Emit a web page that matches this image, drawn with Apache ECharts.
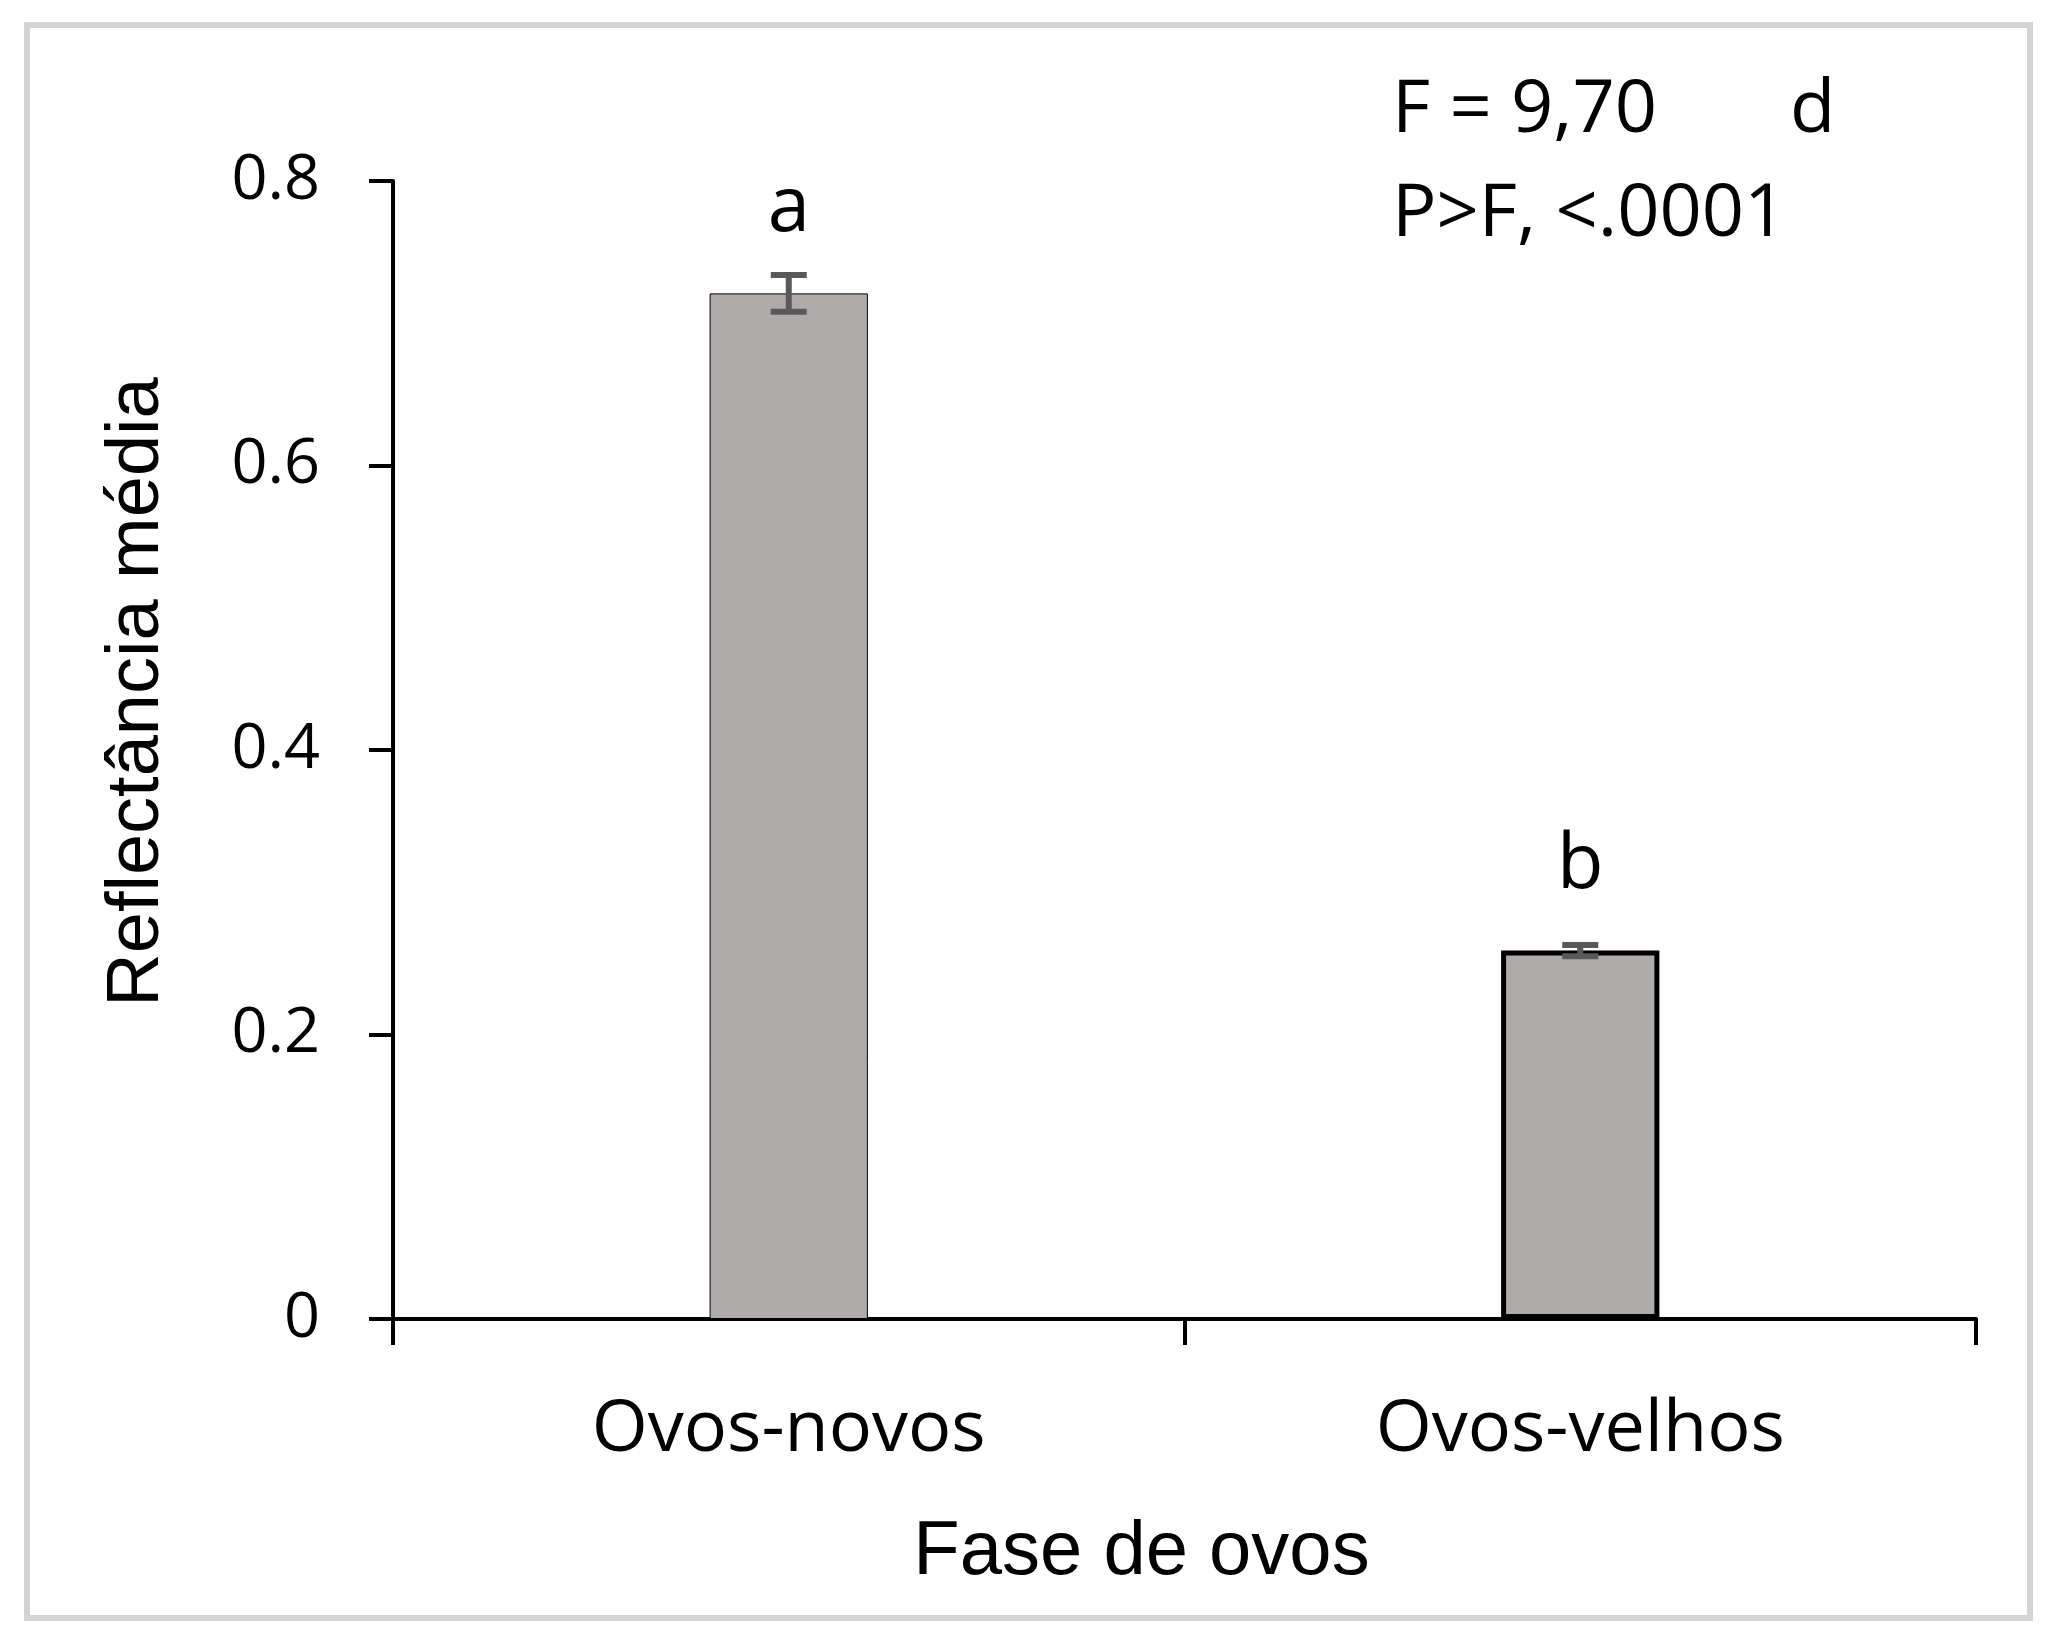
<!DOCTYPE html>
<html>
<head>
<meta charset="utf-8">
<script src="https://cdn.jsdelivr.net/npm/echarts@6/dist/echarts.min.js"></script>
<style>
html,body{margin:0;padding:0;background:#fff;}
#graph1{width:2060px;height:1643px;}
</style>
</head>
<body>
<div id="graph1"></div>
<script>
// fases de ovos -- reflectância média com erro padrão
var categories = ['Ovos-novos', 'Ovos-velhos'];
var means = [0.721, 0.259];
var errors = [0.013, 0.004];
var letters = ['a', 'b'];
var yTicks = [0, 0.2, 0.4, 0.6, 0.8];

var myChart = echarts.init(document.getElementById('graph1'));
var option = null;

var tickFont = 'Open Sans';

option = {
    backgroundColor: '#fff',
    animation: false,
    graphic: [
        {
            type: 'rect',
            shape: {x: 27, y: 25, width: 2003, height: 1593},
            style: {fill: 'none', stroke: '#d4d4d4', lineWidth: 6}
        },
        {
            type: 'text',
            left: 1392, top: 74,
            style: {text: 'F = 9,70', font: '74px "Open Sans"', fill: '#000'}
        },
        {
            type: 'text',
            left: 1790, top: 74,
            style: {text: 'd', font: '74px "Open Sans"', fill: '#000'}
        },
        {
            type: 'text',
            left: 1392, top: 178,
            style: {text: 'P>F, <.0001', font: '74px "Open Sans"', fill: '#000'}
        }
    ],
    grid: {
        left: 393,
        right: 84,
        top: 181,
        bottom: 324
    },
    xAxis: {
        type: 'category',
        data: categories,
        name: 'Fase de ovos',
        nameLocation: 'middle',
        nameGap: 196,
        nameTextStyle: {
            fontFamily: 'Liberation Sans',
            fontSize: 76,
            color: '#000',
            padding: [0, 86, 0, 0]
        },
        axisLine: {lineStyle: {color: '#000', width: 4}},
        axisTick: {show: true, length: 26, lineStyle: {color: '#000', width: 4}},
        axisLabel: {
            fontFamily: tickFont,
            fontSize: 72,
            color: '#000',
            margin: 75
        }
    },
    yAxis: {
        type: 'value',
        min: 0,
        max: 0.8,
        interval: 0.2,
        name: 'Reflectância média',
        nameLocation: 'middle',
        nameGap: 218,
        nameTextStyle: {
            fontFamily: 'Liberation Sans',
            fontSize: 74,
            color: '#000',
            padding: [0, 0, 0, 116]
        },
        splitLine: {show: false},
        axisLine: {show: true, lineStyle: {color: '#000', width: 4}},
        axisTick: {show: true, length: 24, lineStyle: {color: '#000', width: 4}},
        axisLabel: {
            fontFamily: tickFont,
            fontSize: 63,
            color: '#000',
            margin: 73,
            formatter: function (v) {
                return v === 0 ? '0' : v.toFixed(1);
            }
        }
    },
    series: [
        {
            type: 'bar',
            barWidth: '20%',
            data: means.map(function (v, i) {
                return {
                    value: v,
                    itemStyle: {
                        color: '#afabab',
                        borderColor: '#000',
                        borderWidth: i === 1 ? 5 : 1
                    }
                };
            }),
            label: {
                show: true,
                position: 'top',
                distance: 46,
                fontFamily: tickFont,
                fontSize: 76,
                color: '#000',
                formatter: function (p) {
                    return letters[p.dataIndex];
                }
            },
            z: 2
        },
        {
            type: 'custom',
            z: 5,
            data: means.map(function (v, i) {
                return [i, v - errors[i], v + errors[i]];
            }),
            renderItem: function (params, api) {
                var lo = api.coord([api.value(0), api.value(1)]);
                var hi = api.coord([api.value(0), api.value(2)]);
                var hw = 18;
                var st = {stroke: '#595959', lineWidth: 6};
                return {
                    type: 'group',
                    children: [
                        {type: 'line', shape: {x1: hi[0], y1: hi[1], x2: lo[0], y2: lo[1]}, style: st},
                        {type: 'line', shape: {x1: hi[0] - hw, y1: hi[1], x2: hi[0] + hw, y2: hi[1]}, style: st},
                        {type: 'line', shape: {x1: lo[0] - hw, y1: lo[1], x2: lo[0] + hw, y2: lo[1]}, style: st}
                    ]
                };
            }
        }
    ]
};

if (option && typeof option === "object") {
    myChart.setOption(option, true);
}
</script>
</body>
</html>
